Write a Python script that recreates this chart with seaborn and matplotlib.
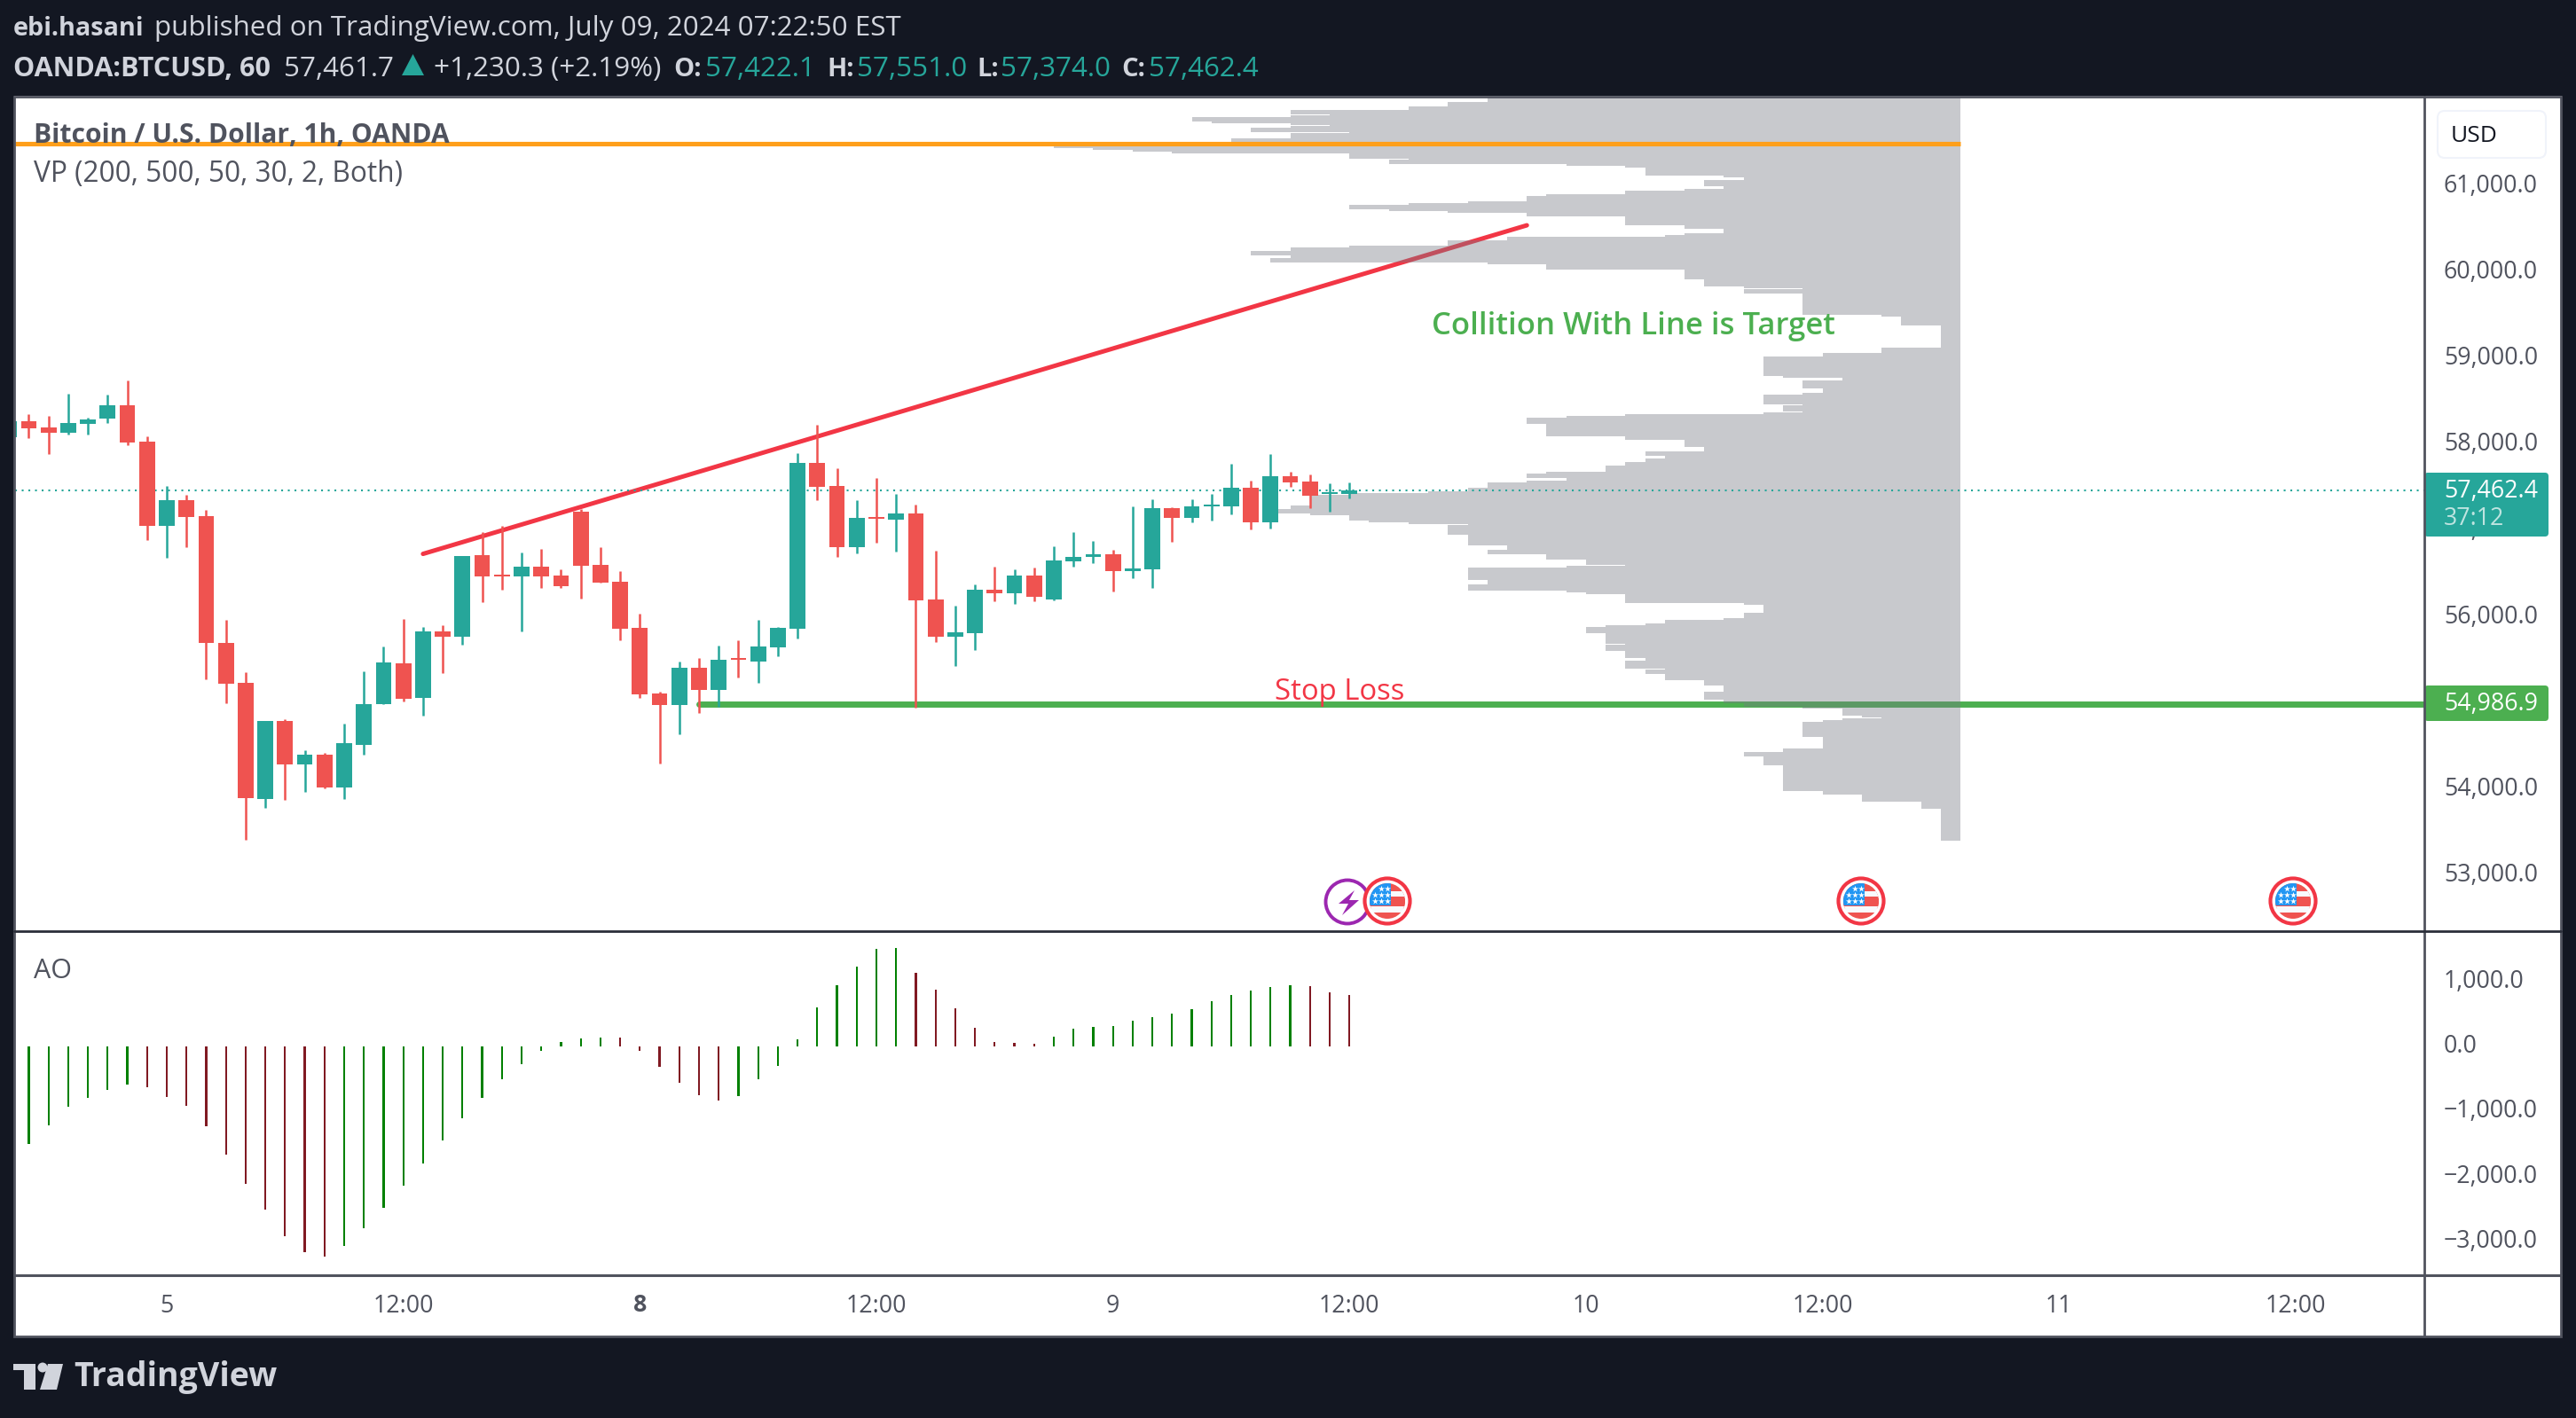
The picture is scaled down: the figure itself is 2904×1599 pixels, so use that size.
import numpy as np
import pandas as pd
import seaborn as sns
import matplotlib
matplotlib.use('Agg')
import matplotlib.pyplot as plt
from matplotlib.patches import Circle, FancyBboxPatch, Polygon, Rectangle
from matplotlib.transforms import ScaledTranslation

# Hourly candles, bar 0 is the "5" tick
bar_index = list(range(-8, 61))
open_prices = [58082, 58261, 58189, 58128, 58231, 58292, 58448, 58025, 57047, 57348, 57161, 55688, 55228, 53881,
               54783, 54280, 54394, 54021, 54505, 54981, 55452, 55053, 55825, 55761, 56708, 56484, 56461, 56575,
               56472, 57211, 56594, 56400, 55863, 55102, 54969, 55403, 55144, 55513, 55475, 55639, 55856, 57778,
               57511, 56800, 57150, 57119, 57192, 56195, 55761, 55803, 56309, 56267, 56472, 56195, 56636, 56689,
               56720, 56522, 56545, 57253, 57142, 57276, 57276, 57489, 57089, 57626, 57561, 57420, 57422.1]
high_prices = [58261, 58345, 58322, 58581, 58303, 58570, 58737, 58086, 57511, 57409, 57234, 55959, 55350, 54783,
               54805, 54444, 54413, 54752, 55361, 55650, 55966, 55875, 55894, 56697, 56975, 57047, 56739, 56781,
               56545, 57245, 56800, 56522, 56031, 55125, 55475, 55513, 55658, 55719, 55959, 55875, 57892, 58219,
               57717, 57348, 57603, 57420, 57295, 56762, 56122, 56370, 56575, 56545, 56564, 56811, 56975, 56872,
               56769, 57276, 57355, 57264, 57355, 57420, 57766, 57572, 57881, 57675, 57645, 57542, 57551.0]
low_prices = [58082, 58067, 57881, 58109, 58109, 58242, 57983, 56883, 56678, 56800, 55270, 54992, 53405, 53778,
              53869, 53960, 54002, 53881, 54394, 54981, 55011, 54847, 55338, 55669, 56164, 56309, 55825, 56328,
              56328, 56206, 56389, 55719, 55060, 54292, 54630, 54878, 54950, 55289, 55228, 55536, 55742, 57348,
              56689, 56727, 56853, 56750, 54939, 55700, 55422, 55608, 56172, 56141, 56172, 56183, 56575, 56617,
              56286, 56442, 56328, 56864, 57089, 57108, 57180, 57005, 57017, 57500, 57253, 57211, 57374.0]
close_prices = [58261, 58185, 58128, 58242, 58284, 58448, 58014, 57047, 57348, 57150, 55688, 55216, 53888, 54783,
                54280, 54394, 54021, 54528, 54981, 55464, 55041, 55825, 55761, 56697, 56461, 56461, 56575, 56461,
                56347, 56587, 56389, 55856, 55095, 54969, 55403, 55144, 55494, 55494, 55650, 55863, 57778, 57500,
                56800, 57142, 57135, 57192, 56183, 55761, 55814, 56309, 56267, 56472, 56225, 56648, 56689, 56720,
                56522, 56552, 57253, 57142, 57276, 57295, 57489, 57089, 57626, 57553, 57397, 57439, 57462.4]

# Awesome oscillator, starts at bar -7
ao_values = [-1507, -1219, -931, -794, -671, -589, -630, -781, -918, -1233, -1671, -2123, -2520, -2931, -3178,
             -3246, -3082, -2808, -2493, -2151, -1808, -1452, -1110, -794, -507, -274, -68, 68, 123, 137, 137,
             -68, -315, -562, -753, -836, -767, -507, -301, 110, 603, 945, 1233, 1507, 1520, 1137, 877, 589, 288,
             68, 55, 41, 151, 274, 301, 315, 397, 452, 507, 575, 699, 794, 863, 918, 945, 931, 836, 794]
ao_state = (['up'] * 6 + ['down'] * 10 + ['up'] * 14 + ['down'] * 6 + ['up'] * 9 + ['down'] * 7
            + ['up'] * 13 + ['down'] * 3)

# Volume profile: price edges from the top down and the row length in bars
vp_edges = [62026, 61964, 61916, 61875, 61824, 61813, 61793, 61745, 61717, 61700, 61690, 61669, 61618, 61608,
            61546, 61505, 61433, 61412, 61395, 61375, 61309, 61299, 61251, 61230, 61210, 61114, 61093, 61066, 60990,
            60960, 60939, 60898, 60877, 60816, 60795, 60774, 60723, 60702, 60682, 60641, 60538, 60497, 60445,
            60425, 60404, 60363, 60301, 60281, 60239, 60188, 60157, 60106, 60085, 60023, 59910, 59828, 59807,
            59797, 59746, 59499, 59478, 59375, 59118, 59056, 59015, 58789, 58768, 58738, 58645, 58594, 58573,
            58460, 58450, 58378, 58367, 58347, 58326, 58306, 58234, 58090, 58048, 57966, 57915, 57863, 57832,
            57791, 57750, 57678, 57657, 57606, 57575, 57555, 57493, 57452,
            57431, 57407, 57287, 57246, 57195, 57174, 57112, 57092, 57071, 57061, 56948, 56824, 56773, 56721,
            56660, 56598, 56588, 56567, 56423, 56372, 56300, 56279, 56258, 56156, 56135, 56042, 55981, 55960,
            55919, 55898, 55878, 55806, 55682, 55672, 55600, 55518, 55487, 55394, 55384, 55333, 55261, 55199,
            55127, 55034, 54993, 54952, 54931, 54849, 54829, 54818, 54798, 54777, 54602, 54468, 54427, 54376,
            54273, 53975, 53934, 53851, 53769, 53402]
vp_rows = [24, 26, 28, 34, 32, 34, 39, 38, 34, 32, 34, 36, 31, 34, 37, 46, 44, 42, 40, 31, 28, 29, 20, 17, 16, 12, 11,
           13, 12, 14, 17, 21, 22, 25, 28, 31, 29, 26, 22, 17, 14, 12, 14, 15, 23, 26, 31, 34, 36, 34, 35, 24, 21,
           14, 13, 11, 8, 11, 8, 4, 3, 1, 4, 7, 10, 9, 6, 8, 7, 8, 10, 8, 9, 8, 10, 17, 20, 22, 21, 17, 14, 13, 16,
           15, 16, 17, 18, 21, 22, 20, 22, 24, 25,
           27, 31, 33, 34, 35, 33, 31, 30, 28, 25, 26, 25, 23, 24, 21, 19, 17, 20, 25, 24, 25, 20, 19, 17, 11, 10,
           11, 12, 15, 16, 18, 19, 18, 17, 18, 17, 16, 17, 15, 16, 15, 13, 12, 13, 12, 11, 8, 6, 5, 4, 6, 7, 8, 7,
           9, 11, 10, 9, 7, 5, 2, 1]

# Tick labels
price_ticks = [53000, 54000, 55000, 56000, 57000, 58000, 59000, 60000, 61000]
price_labels = ['53,000.0', '54,000.0', '55,000.0', '56,000.0', '57,000.0', '58,000.0', '59,000.0', '60,000.0',
                '61,000.0']
ao_ticks = [-3000, -2000, -1000, 0, 1000]
ao_labels = ['\u22123,000.0', '\u22122,000.0', '\u22121,000.0', '0.0', '1,000.0']
time_ticks = [0, 12, 24, 36, 48, 60, 72, 84, 96, 108]
time_labels = ['5', '12:00', '8', '12:00', '9', '12:00', '10', '12:00', '11', '12:00']

# Drawings on the chart
last_price = 57462.4
stop_price = 54986.9
orange_price = 61480
trend_bars = [13, 69]
trend_prices = [56726, 60538]

BG = '#131722'
FRAME = '#50535E'
TEAL = '#26A69A'
RED = '#EF5350'
PEN_RED = '#F23645'
GREEN = '#4CAF50'
HEAD = '#D1D4DC'
W, H = 2904, 1599

sns.set_theme(style='white')
plt.rcParams['font.family'] = ['Open Sans', 'DejaVu Sans']

fig = plt.figure(figsize=(W / 100, H / 100), dpi=100, facecolor=BG)


def pane(left, top, right, bottom):
    return fig.add_axes([left / W, 1 - bottom / H, (right - left) / W, (bottom - top) / H])


ax = pane(17, 110, 2733, 1050)
ax_ao = pane(17, 1052, 2733, 1438)
xlim = (-7.695, 114.53)

# Main pane
ax.set_xlim(xlim)
ax.set_ylim(52349.3, 62020)

up = np.array(close_prices) >= np.array(open_prices)
colors = [TEAL if u else RED for u in up]
body_low = np.minimum(open_prices, close_prices)
body_size = np.abs(np.array(close_prices) - np.array(open_prices))

ax.plot(trend_bars, trend_prices, color=PEN_RED, lw=3.6, solid_capstyle='round', zorder=1)
ax.plot([27, xlim[1]], [stop_price, stop_price], color=GREEN, lw=5, solid_capstyle='round', zorder=1)

# One polygon, so the rows do not darken where they touch
vp_y = np.repeat(vp_edges, 2)[1:-1]
vp_x = 91 - np.repeat(vp_rows, 2)
ax.fill_betweenx(vp_y, vp_x, 91, color='#767884', alpha=0.4, lw=0, zorder=2)

ax.axhline(last_price, color=TEAL, lw=1.5, ls=(0, (1, 2.6)), zorder=3)
ax.plot([xlim[0], 91], [orange_price, orange_price], color='#FF9F1A', lw=3.7, solid_capstyle='butt', zorder=5)

ax.vlines(bar_index, low_prices, high_prices, colors=colors, lw=1.8, zorder=4)
ax.bar(bar_index, body_size, bottom=body_low, width=0.8, color=colors, lw=0, zorder=4)

ax.text(59.5, 55120, 'Stop Loss', color=PEN_RED, fontsize=23.7, ha='center', va='center', zorder=6)
ax.text(74.4, 59365, 'Collition With Line is Target', color=GREEN, fontsize=24.9, fontweight='semibold',
        ha='center', va='center', zorder=6)

ax.set_xticks([])
ax.set_yticks(price_ticks, price_labels)

# Oscillator pane
ao_df = pd.DataFrame({'bar': bar_index[1:], 'value': ao_values, 'state': ao_state})
sns.barplot(data=ao_df, x='bar', y='value', hue='state', palette={'up': '#008000', 'down': '#801922'},
            native_scale=True, dodge=False, width=0.1, saturation=1, errorbar=None, legend=False, linewidth=0,
            ax=ax_ao)
ax_ao.set_xlim(xlim)
ax_ao.set_ylim(-3534, 1753)
ax_ao.set_xlabel('')
ax_ao.set_ylabel('')
ax_ao.set_yticks(ao_ticks, ao_labels)
ax_ao.set_xticks(time_ticks, time_labels)
ax_ao.get_xticklabels()[2].set_fontweight('bold')

for a in (ax, ax_ao):
    a.set_facecolor('white')
    for s in a.spines.values():
        s.set_visible(False)
    a.grid(False)
    a.yaxis.tick_right()
    a.tick_params(axis='y', length=0, pad=15.8, labelsize=19.3, labelcolor=FRAME)
    a.tick_params(axis='x', length=0, pad=15, labelsize=19.3, labelcolor=FRAME)
    for lab in a.get_yticklabels():
        lab.set_ha('left')
        lab.set_transform(lab.get_transform() + ScaledTranslation(0, 0.03, fig.dpi_scale_trans))

# Everything around the panes, in image pixels
over = fig.add_axes([0, 0, 1, 1], zorder=5)
over.set_xlim(0, W)
over.set_ylim(H, 0)
over.axis('off')
over.patch.set_alpha(0)

# White behind the price scale and time scale
back = fig.add_axes([0, 0, 1, 1], zorder=-1)
back.set_xlim(0, W)
back.set_ylim(H, 0)
back.axis('off')
back.add_patch(Rectangle((16, 108), 2872, 1400, fc='white', lw=0))

over.add_patch(Rectangle((16, 109), 2871, 1398, fc='none', ec=FRAME, lw=2))
over.plot([2733, 2733], [109, 1507], color=FRAME, lw=2)
over.plot([16, 2887], [1438, 1438], color=FRAME, lw=2.2)
over.plot([16, 2887], [1050, 1050], color='#2A2E39', lw=2)

# Header
over.text(15, 32, 'ebi.hasani', color=HEAD, fontsize=20.7, fontweight='bold', va='center')
over.text(174, 32, 'published on TradingView.com, July 09, 2024 07:22:50 EST', color=HEAD, fontsize=22.6, va='center')
over.text(15, 78, 'OANDA:BTCUSD, 60', color=HEAD, fontsize=22, fontweight='bold', va='center')
over.text(320, 78, '57,461.7', color=HEAD, fontsize=22.6, va='center')
over.add_patch(Polygon([(453, 85), (478, 85), (465.5, 61)], fc=TEAL, lw=0))
over.text(489, 78, '+1,230.3 (+2.19%)', color=HEAD, fontsize=22.6, va='center')
for key, kx, val, vx in [('O:', 759, '57,422.1', 795), ('H:', 932, '57,551.0', 966),
                         ('L:', 1101, '57,374.0', 1128), ('C:', 1264, '57,462.4', 1295)]:
    over.text(kx, 78, key, color=HEAD, fontsize=21, fontweight='bold', va='center')
    over.text(vx, 78, val, color=TEAL, fontsize=22.6, va='center')

# Pane titles
over.text(38, 153, 'Bitcoin / U.S. Dollar, 1h, OANDA', color=FRAME, fontsize=21.6, fontweight='bold', va='center')
over.text(38, 196, 'VP (200, 500, 50, 30, 2, Both)', color=FRAME, fontsize=22.8, va='center')
over.text(38, 1095, 'AO', color=FRAME, fontsize=22, va='center')

# Price scale labels
over.add_patch(FancyBboxPatch((2748, 125), 122, 53, boxstyle='round,pad=0,rounding_size=8', fc='white',
                              ec='#F0F3FA', lw=1.5, mutation_aspect=1))
over.text(2789, 153, 'USD', color=BG, fontsize=19, ha='center', va='center')
over.add_patch(FancyBboxPatch((2733, 533), 140, 72, boxstyle='round,pad=0,rounding_size=4', fc=TEAL, lw=0))
over.text(2755, 554, '57,462.4', color='white', fontsize=19.3, va='center')
over.text(2755, 585, '37:12', color='#BEE4E0', fontsize=19.3, va='center')
over.add_patch(FancyBboxPatch((2733, 773), 140, 40, boxstyle='round,pad=0,rounding_size=4', fc=GREEN, lw=0))
over.text(2755, 794, '54,986.9', color='white', fontsize=19.3, va='center')


def flag_icon(cx, cy):
    over.add_patch(Circle((cx, cy), 25.5, fc='white', ec=PEN_RED, lw=3, zorder=4))
    clip = Circle((cx, cy), 20, transform=over.transData)
    for top, height, col in [(-21, 30, RED), (-11, 6, '#F8F9FD'), (-3, 10, RED), (6, 7, '#F8F9FD'), (13, 8, RED)]:
        r = Rectangle((cx - 21, cy + top), 42, height, fc=col, lw=0, zorder=5)
        over.add_patch(r)
        r.set_clip_path(clip)
    canton = Rectangle((cx - 21, cy - 21), 25, 26, fc='#2196F3', lw=0, zorder=6)
    over.add_patch(canton)
    canton.set_clip_path(clip)
    stars_x = [cx - 14, cx - 7, cx, cx - 14, cx - 7, cx, cx - 7, cx]
    stars_y = [cy - 7, cy - 7, cy - 7, cy, cy, cy, cy - 14, cy - 14]
    over.scatter(stars_x, stars_y, marker='*', s=28, c='white', lw=0, zorder=7)


# Event icons
over.add_patch(Circle((1519, 1017), 24.5, fc='white', ec='#9C27B0', lw=2.8, zorder=3))
over.add_patch(Polygon([(1527, 1004), (1509, 1019), (1520, 1019), (1513, 1032), (1532, 1015), (1521, 1015)],
                       fc='#9C27B0', lw=0, zorder=3))
flag_icon(1564, 1016)
flag_icon(2098, 1016)
flag_icon(2585, 1016)

# Logo
over.add_patch(Polygon([(15, 1538), (40, 1538), (40, 1567), (27, 1567), (27, 1545), (15, 1545)], fc=HEAD, lw=0))
over.add_patch(Circle((48, 1542), 5.5, fc=HEAD, lw=0))
over.add_patch(Polygon([(54, 1538), (71, 1538), (64, 1567), (45, 1567)], fc=HEAD, lw=0))
over.text(83, 1553, 'TradingView', color=HEAD, fontsize=27, fontweight='bold', va='center')

fig.savefig('out.png', dpi=100, facecolor=BG)
